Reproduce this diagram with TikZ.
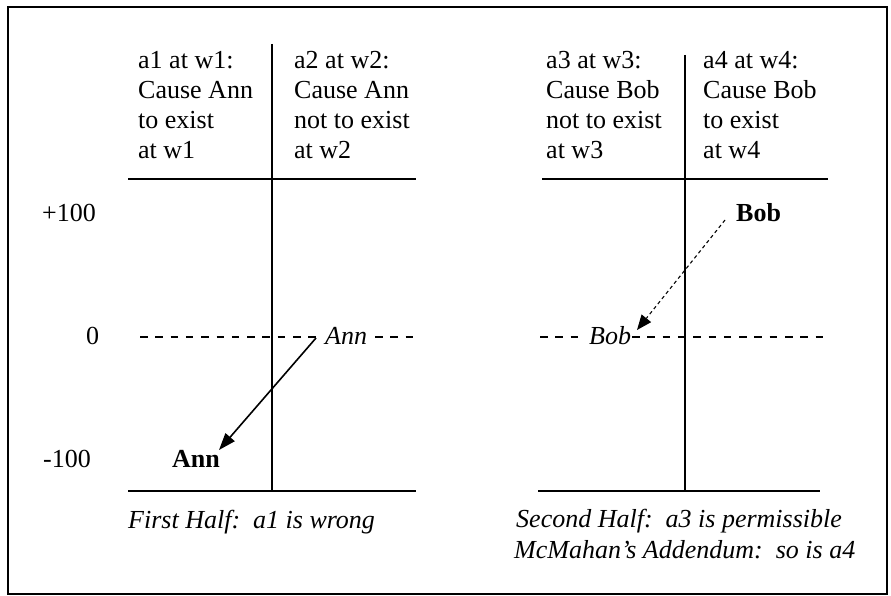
\documentclass[tikz,border=0pt]{standalone}
\usepackage{fontspec}
\setmainfont{Liberation Serif}
\usetikzlibrary{arrows.meta}
\newcommand{\hdrtext}[1]{\begin{tabular}[t]{@{}l@{}}#1\end{tabular}}
\tikzset{
  frame/.style={line width=1.4pt},
  axis/.style={line width=2pt},
  zero/.style={line width=1.8pt, dash pattern=on 7.5pt off 7.8pt},
  txt/.style={inner sep=0pt, anchor=base west, font=\fontsize{26}{30}\selectfont},
  move/.style={line width=1.6pt, -{Triangle[length=17pt,width=12pt]}},
  movedash/.style={line width=1.1pt, dash pattern=on 3.5pt off 3pt, -{Triangle[length=15pt,width=12pt]}}
}
\begin{document}
\begin{tikzpicture}[x=1pt,y=-1pt]
\useasboundingbox (0,0) rectangle (891,596);
\draw[frame] (8,7) rectangle (887,594);
% left panel
\draw[axis] (272,44) -- (272,491);
\draw[axis] (128,179) -- (416,179);
\draw[axis] (128,491) -- (416,491);
% right panel
\draw[axis] (685,55) -- (685,491);
\draw[axis] (542,179) -- (828,179);
\draw[axis] (538,491) -- (820,491);
% headers
\node[txt] (h1) at (138,69) {\hdrtext{a1 at w1:\\Cause Ann\\to exist\\at w1}};
\node[txt] (h2) at (294,69) {\hdrtext{a2 at w2:\\Cause Ann\\not to exist\\at w2}};
\node[txt] (h3) at (546,69) {\hdrtext{a3 at w3:\\Cause Bob\\not to exist\\at w3}};
\node[txt] (h4) at (703,69) {\hdrtext{a4 at w4:\\Cause Bob\\to exist\\at w4}};
% scale
\node[txt] (p100) at (42,222) {+100};
\node[txt] (z0) at (86,344) {0};
\node[txt] (m100) at (43,467) {-100};
% zero lines
\draw[zero] (140,337) -- (318,337);
\draw[zero] (375,337) -- (416,337);
\draw[zero] (540,337) -- (582,337);
\draw[zero] (632,337) -- (827,337);
% Ann
\node[txt] (annI) at (325,344) {\itshape Ann};
\node[txt] (annB) at (172,467) {\bfseries Ann};
\coordinate (annS) at (316,338);
\coordinate (annE) at (219,450);
\draw[move] (annS) -- (annE);
% Bob
\node[txt] (bobB) at (736,222) {\bfseries Bob};
\node[txt] (bobI) at (589,344) {\itshape Bob};
\coordinate (bobS) at (725,220);
\coordinate (bobE) at (637,330);
\draw[movedash] (bobS) -- (bobE);
% captions
\node[txt] (c1) at (128,528) {\itshape First Half:\ \ a1 is wrong};
\node[txt] (c2) at (516,527) {\itshape Second Half:\ \ a3 is permissible};
\node[txt] (c3) at (514,558) {\itshape McMahan’s Addendum:\ \ so is a4};
\end{tikzpicture}
\end{document}
